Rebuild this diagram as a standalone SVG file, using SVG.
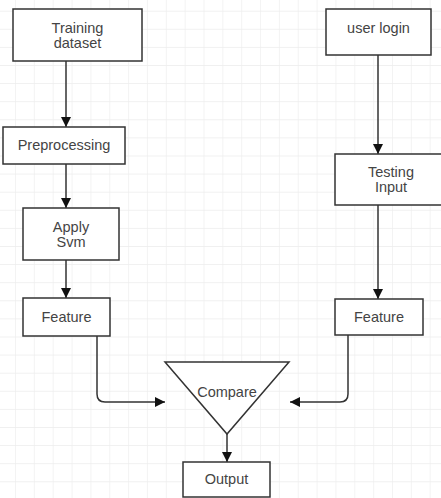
<svg xmlns="http://www.w3.org/2000/svg" width="441" height="498" viewBox="0 0 441 498">
<defs>
<pattern id="grid" patternUnits="userSpaceOnUse" x="15" y="10.7" width="18.85" height="18.1">
<path d="M0 0 H18.85 M0 0 V18.1" fill="none" stroke="#ececec" stroke-width="1.2"/>
</pattern>
<marker id="arr" viewBox="0 0 10 10" refX="10" refY="5" markerWidth="10" markerHeight="10" markerUnits="userSpaceOnUse" orient="auto">
<path d="M0 0 L10 5 L0 10 Z" fill="#111"/>
</marker>
<style>
.box{fill:#fff;stroke:#333;stroke-width:1.5}
.lbl{font-family:"Liberation Sans",Arial,sans-serif;font-size:14.5px;fill:#444;text-anchor:middle}
.edge{fill:none;stroke:#333;stroke-width:1.5;marker-end:url(#arr)}
</style>
</defs>
<rect width="441" height="498" fill="#fff"/>
<rect width="441" height="498" fill="url(#grid)"/>
<g id="connectors">
<path class="edge" d="M66 61 V127"/>
<path class="edge" d="M66 164 V208"/>
<path class="edge" d="M66 260 V298"/>
<path class="edge" d="M378 55 V154"/>
<path class="edge" d="M378 205 V299"/>
<path class="edge" d="M97 336 V394 Q97 402 105 402 H165"/>
<path class="edge" d="M348 335 V394 Q348 402 340 402 H290"/>
<path class="edge" d="M227 434 V462"/>
</g>
<g id="training">
<rect class="box" x="13" y="9" width="129" height="52"/>
<text class="lbl" x="77.5" y="33">Training</text>
<text class="lbl" x="77.5" y="48">dataset</text>
</g>
<g id="preprocessing">
<rect class="box" x="3" y="127" width="122" height="37"/>
<text class="lbl" x="64" y="150">Preprocessing</text>
</g>
<g id="apply">
<rect class="box" x="23" y="208" width="96" height="52"/>
<text class="lbl" x="71" y="232">Apply</text>
<text class="lbl" x="71" y="247">Svm</text>
</g>
<g id="feature-left">
<rect class="box" x="23" y="298" width="87" height="38"/>
<text class="lbl" x="66.5" y="322">Feature</text>
</g>
<g id="login">
<rect class="box" x="326" y="9" width="105" height="46"/>
<text class="lbl" x="378.5" y="33">user login</text>
</g>
<g id="testing">
<rect class="box" x="335" y="154" width="112" height="51"/>
<text class="lbl" x="391" y="177">Testing</text>
<text class="lbl" x="391" y="192">Input</text>
</g>
<g id="feature-right">
<rect class="box" x="335" y="299" width="88" height="36"/>
<text class="lbl" x="379" y="322">Feature</text>
</g>
<g id="compare">
<path class="box" d="M165 362 H289 L227 434 Z"/>
<text class="lbl" x="227" y="397">Compare</text>
</g>
<g id="output">
<rect class="box" x="183" y="462" width="87" height="35"/>
<text class="lbl" x="226.5" y="484">Output</text>
</g>
</svg>
